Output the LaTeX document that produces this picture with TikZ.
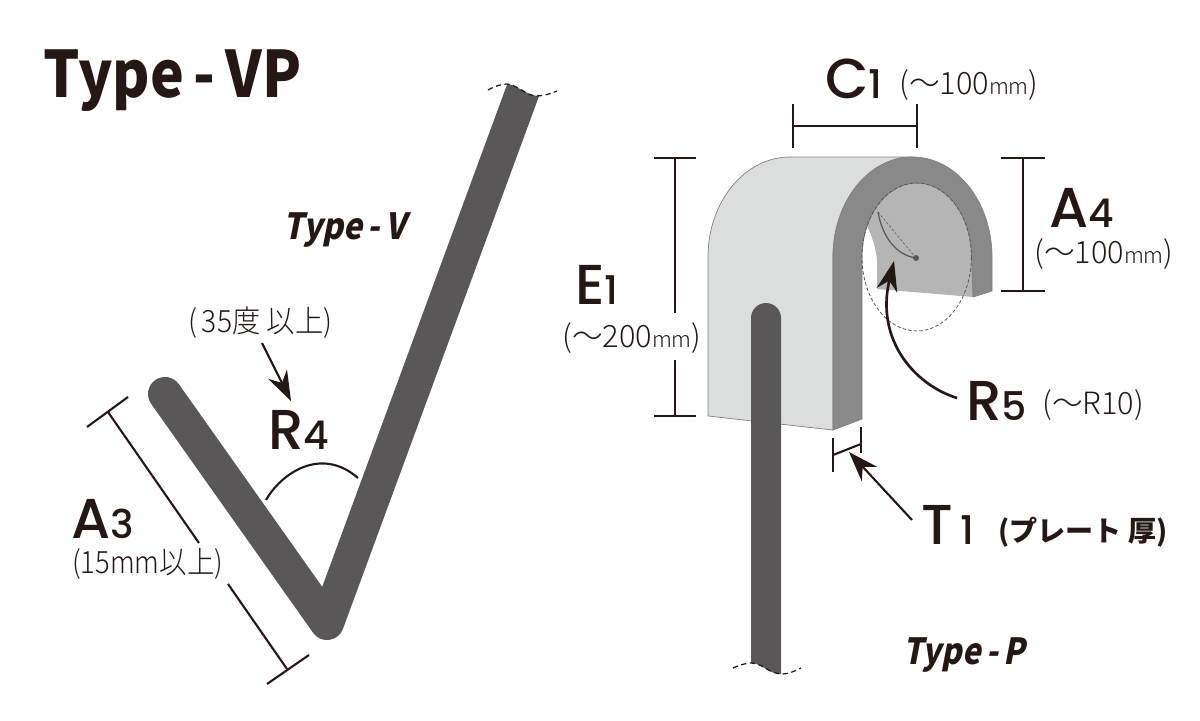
\documentclass[tikz,border=0pt]{standalone}
\usepackage{fontspec}
\usepackage{tikz}
\usetikzlibrary{arrows.meta, positioning}
\setmainfont{Noto Sans CJK JP}
\newfontfamily\lightfont{Noto Sans CJK JP Light}
\newfontfamily\slantfont[FakeSlant=0.22]{Noto Sans CJK JP}
\newfontfamily\markfont{Poppins Medium}
\definecolor{inkblack}{HTML}{231815}
\definecolor{barrgray}{HTML}{595757}
\definecolor{frontgray}{HTML}{DCDDDD}
\definecolor{sidegray}{HTML}{898989}
\definecolor{backgray}{HTML}{B5B5B6}
\newcommand{\marklabel}[2]{{\markfont\fontsize{32}{32}\selectfont #1{\fontsize{22.5}{22.5}\selectfont #2}}}
\newcommand{\mmunit}{{\fontsize{12.5}{12.5}\selectfont mm}}
\tikzset{
x=0.02cm, % one unit is one pixel of the reference
y=-0.02cm, % y runs downwards as in the reference
>={Stealth[length=6mm, width=4.2mm]}, % large arrow heads
every node/.style={inner sep=0pt, anchor=base west, text=inkblack},
marktext/.style={text depth=0pt}, % big letter and digit of a dimension
dimline/.style={draw=inkblack, line width=1.2pt}, % dimension lines and their ticks
pointer/.style={draw=inkblack, line width=1.5pt, ->}, % arrows towards a dimension
smalltext/.style={font=\lightfont\fontsize{17.5}{17.5}\selectfont},
typetext/.style={font=\slantfont\bfseries\fontsize{20.5}{20.5}\selectfont},
bar/.style={draw=barrgray, line width=0.68cm, line cap=round, line join=round},
cutline/.style={draw=inkblack, line width=0.7pt, dashed, dash pattern=on 3pt off 2pt},
}

\begin{document}
\begin{tikzpicture}
    \useasboundingbox (0,0) rectangle (1200,720);

    % Type-V strip, cut off at its top end
    \begin{scope}
        \clip (100,350) -- (507,84) .. controls (518,85) and (525,95) .. (538,96) -- (600,96) -- (600,700) -- (100,700) -- cycle;
        \draw[bar] (165,394) -- (327,623) -- (525,85);
    \end{scope}
    \draw[cutline] (488,90) .. controls (495,86) and (502,84) .. (507,84) .. controls (518,85) and (525,95) .. (536,96) .. controls (543,96) and (550,94) .. (557,91);

    % Type-P block
    \fill[backgray] (877,289) -- (877,260) .. controls (876,250) and (873,238) .. (867,226) .. controls (875,195) and (895,178) .. (917,178) .. controls (950,178) and (975,210) .. (975,257) -- (973,297) -- cycle;
    \filldraw[fill=frontgray, draw=gray, line width=0.4pt] (708,416) -- (708,257) .. controls (708,201.8) and (744.7,157) .. (790,157) -- (912.5,157) .. controls (868.6,157) and (833,201.8) .. (833,257) -- (833,430) -- cycle;
    \filldraw[fill=sidegray, draw=gray, line width=0.4pt] (833,430) -- (833,257) .. controls (833,201.8) and (868.6,157) .. (912.5,157) .. controls (956.4,157) and (992,201.8) .. (992,257) -- (992,291) -- (973,297) -- (971.5,257) .. controls (971.5,216) and (947,183) .. (917,183) .. controls (887,183) and (862,216) .. (862,257) -- (862,419) -- cycle;
    \draw[barrgray, line width=0.45pt, dashed, dash pattern=on 2pt off 1.2pt] (916.7,257) ellipse [x radius=54.7, y radius=74];

    % radius inside the arch
    \coordinate (rcentre) at (916,258);
    \coordinate (rstart) at (878,212);
    \fill[barrgray] (rcentre) circle (3);
    \draw[barrgray, line width=0.3pt, dashed, dash pattern=on 1.5pt off 1pt] (rcentre) -- (rstart);
    \draw[barrgray, line width=0.7pt] (rstart) .. controls (882,235) and (895,255) .. (rcentre);

    % Type-P strip
    \fill[barrgray] (751,663) .. controls (762,663) and (768,674) .. (781,674) -- (781,318) arc[start angle=0, end angle=-180, radius=15] -- cycle;
    \draw[cutline] (733,668) .. controls (740,665) and (746,663) .. (751,663) .. controls (762,663) and (768,673) .. (781,674) .. controls (789,674) and (795,671) .. (801,668);

    % C1
    \coordinate (c1l) at (793,126);
    \coordinate (c1r) at (917,126);
    \draw[dimline] (c1l) -- (c1r);
    \draw[dimline] ([yshift=0.44cm]c1l) -- ([yshift=-0.44cm]c1l);
    \draw[dimline] ([yshift=0.44cm]c1r) -- ([yshift=-0.44cm]c1r);
    \node[marktext] (c1label) at (825,98) {\marklabel{C}{1}};
    \node[smalltext] (c1range) at (899,94) {(〜100\mmunit)};

    % E1
    \coordinate (e1t) at (675,158);
    \coordinate (e1b) at (675,416);
    \coordinate (e1gt) at (675,313);
    \coordinate (e1gb) at (675,360);
    \draw[dimline] (e1t) -- (e1gt);
    \draw[dimline] (e1gb) -- (e1b);
    \draw[dimline] ([xshift=-0.42cm]e1t) -- ([xshift=0.42cm]e1t);
    \draw[dimline] ([xshift=-0.42cm]e1b) -- ([xshift=0.42cm]e1b);
    \node[marktext] (e1label) at (575,304) {\marklabel{E}{1}};
    \node[smalltext] (e1range) at (562,347) {(〜200\mmunit)};

    % A4
    \coordinate (a4t) at (1023,158);
    \coordinate (a4b) at (1023,291);
    \draw[dimline] (a4t) -- (a4b);
    \draw[dimline] ([xshift=-0.44cm]a4t) -- ([xshift=0.44cm]a4t);
    \draw[dimline] ([xshift=-0.44cm]a4b) -- ([xshift=0.44cm]a4b);
    \node[marktext] (a4label) at (1049,227) {\marklabel{A}{4}};
    \node[smalltext] (a4range) at (1034,263) {(〜100\mmunit)};

    % R5
    \node[marktext] (r5label) at (966,420) {\marklabel{R}{5}};
    \node[smalltext] (r5range) at (1042,414) {(〜R10)};
    \coordinate (r5tail) at (957,398);
    \coordinate (r5tip) at (894,261);
    \draw[pointer] (r5tail) .. controls (915,385) and (875,340) .. (r5tip);

    % T1
    \coordinate (t1l) at (833,455);
    \coordinate (t1r) at (861,444);
    \draw[dimline] (t1l) -- (t1r);
    \draw[dimline] (833,438) -- (833,472);
    \draw[dimline] (861,427) -- (861,453);
    \node[marktext] (t1label) at (921,544) {\marklabel{T}{\hspace{0.2em}1}};
    \node[font=\bfseries\fontsize{16}{16}\selectfont] (t1note) at (998,541) {(プレート 厚)};
    \coordinate (t1tail) at (912,520);
    \coordinate (t1tip) at (849,452);
    \draw[pointer, line width=1.2pt] (t1tail) -- (t1tip);

    % R4
    \node[marktext] (r4label) at (268,449) {\marklabel{R}{4}};
    \node[smalltext] (r4note) at (188,332) {\scalebox{0.92}[1]{(\,35度 以上)}};
    \coordinate (r4a) at (266,500);
    \coordinate (r4b) at (358,478);
    \coordinate (r4tail) at (262,343);
    \coordinate (r4tip) at (291,401);
    \draw[dimline] (r4a) .. controls (280,475) and (320,445) .. (r4b);
    \draw[pointer, line width=1.2pt] (r4tail) -- (r4tip);

    % A3
    \coordinate (a3ta) at (87,427);
    \coordinate (a3tb) at (128,397);
    \coordinate (a3ba) at (267,684);
    \coordinate (a3bb) at (309,655);
    \coordinate (a3s) at (108,412);
    \coordinate (a3g1) at (199,543);
    \coordinate (a3g2) at (228,584);
    \coordinate (a3e) at (287,669);
    \draw[dimline] (a3ta) -- (a3tb);
    \draw[dimline] (a3ba) -- (a3bb);
    \draw[dimline] (a3s) -- (a3g1);
    \draw[dimline] (a3g2) -- (a3e);
    \node[marktext] (a3label) at (71,538) {\marklabel{A}{3}};
    \node[smalltext] (a3note) at (72,573) {\scalebox{0.89}[1]{(15mm以上)}};

    % titles
    \node[font=\bfseries\fontsize{36.5}{36.5}\selectfont] (title) at (43,97) {\scalebox{0.89}[1]{Type\,-\,VP}};
    \node[typetext] (typev) at (283,239) {\scalebox{0.89}[1]{Type\,-\,V}};
    \node[typetext] (typep) at (903,664) {\scalebox{0.87}[1]{Type\,-\,P}};
\end{tikzpicture}
\end{document}
